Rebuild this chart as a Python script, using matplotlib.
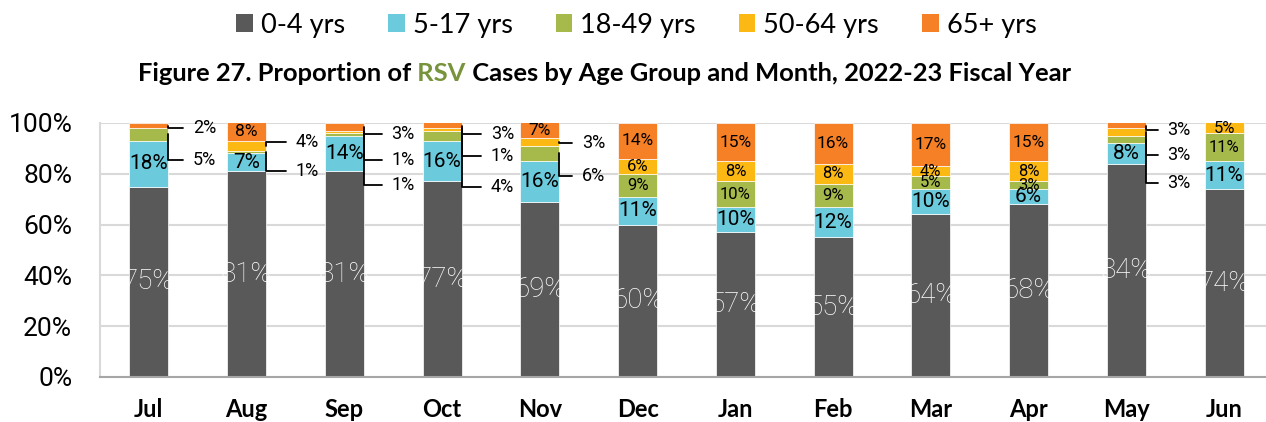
import numpy as np
import matplotlib.pyplot as plt
from matplotlib.patches import Patch

months = ["Jul", "Aug", "Sep", "Oct", "Nov", "Dec", "Jan", "Feb", "Mar", "Apr", "May", "Jun"]
groups = ["0-4 yrs", "5-17 yrs", "18-49 yrs", "50-64 yrs", "65+ yrs"]

age_0_4 = [75, 81, 81, 77, 69, 60, 57, 55, 64, 68, 84, 74]
age_5_17 = [18, 7, 14, 16, 16, 11, 10, 12, 10, 6, 8, 11]
age_18_49 = [5, 1, 1, 4, 6, 9, 10, 9, 5, 3, 3, 11]
age_50_64 = [0, 4, 1, 1, 3, 6, 8, 8, 4, 8, 3, 5]
age_65_plus = [2, 8, 3, 3, 7, 14, 15, 16, 17, 15, 3, 0]

colors = ["#595959", "#6BCBDC", "#A6B94B", "#FDB913", "#F58025"]
label_colors = ["white", "black", "black", "black", "black"]
label_sizes = [20, 15, 12, 12, 12.5]

# small segments labelled outside the bar: (month, group) -> (label y, x offset)
callouts = {
    (0, 4): (98, 0.45), (0, 2): (85.5, 0.45),
    (1, 3): (92.5, 0.5), (1, 2): (81, 0.5),
    (2, 4): (95.5, 0.48), (2, 3): (85.5, 0.48), (2, 2): (75.5, 0.48),
    (3, 4): (95.5, 0.5), (3, 3): (87, 0.5), (3, 2): (75, 0.5),
    (4, 3): (92, 0.43), (4, 2): (79, 0.43),
    (10, 4): (97.2, 0.42), (10, 3): (87.5, 0.42), (10, 2): (76.5, 0.42),
}

series = [age_0_4, age_5_17, age_18_49, age_50_64, age_65_plus]

W, H = 1266, 422
fig = plt.figure(figsize=(W / 100, H / 100), dpi=100)
ax = fig.add_axes([100 / W, 45 / H, 1173 / W, 254 / H])

x = np.arange(len(months))
bw = 0.4
bottom = np.zeros(len(months))
for k, vals in enumerate(series):
    vals = np.array(vals, dtype=float)
    ax.bar(x, vals, bw, bottom=bottom, color=colors[k], edgecolor="white", linewidth=0.5, zorder=2)
    for i, v in enumerate(vals):
        if v <= 0:
            continue
        lo = bottom[i]
        hi = min(lo + v, 100)
        if (i, k) in callouts:
            ly, dx = callouts[(i, k)]
            ax.annotate(f"{int(v)}%", xy=(i + bw / 2, (lo + hi) / 2), xytext=(i + dx, ly),
                        ha="left", va="center", fontsize=13, family="Roboto", color="black",
                        arrowprops=dict(arrowstyle="-", color="black", lw=1.3,
                                        connectionstyle="angle,angleA=0,angleB=90,rad=0",
                                        relpos=(0, 0.5), shrinkA=5, shrinkB=0),
                        annotation_clip=False, zorder=4)
        else:
            ax.text(i, (lo + hi) / 2, f"{int(v)}%", ha="center", va="center",
                    fontsize=label_sizes[k], family="Roboto",
                    fontweight="light" if k == 0 else "normal",
                    color=label_colors[k], zorder=3)
    bottom += vals

ax.set_xlim(-0.5, len(months) - 0.5)
ax.set_ylim(0, 100)
ax.set_yticks(np.arange(0, 101, 20))
ax.set_yticklabels([f"{t}%" for t in range(0, 101, 20)], family="Roboto", fontsize=19)
ax.set_xticks(x)
ax.set_xticklabels(months, family="Lato", fontweight="bold", fontsize=17)
ax.tick_params(axis="y", length=0, pad=20)
ax.tick_params(axis="x", length=0, pad=15)
ax.grid(axis="y", color="#D9D9D9", linewidth=1.5, zorder=0)
ax.set_axisbelow(True)
for s in ["top", "right"]:
    ax.spines[s].set_visible(False)
ax.spines["left"].set_color("#D9D9D9")
ax.spines["left"].set_linewidth(1.5)
ax.spines["bottom"].set_color("#A6A6A6")
ax.spines["bottom"].set_linewidth(1.5)

handles = [Patch(facecolor=c, label=g) for c, g in zip(colors, groups)]
fig.legend(handles=handles, loc="center", bbox_to_anchor=(636.5 / W, 1 - 25 / H), ncol=5,
           frameon=False, prop={"family": "Lato", "size": 19.5}, handlelength=0.6, handleheight=0.6,
           handletextpad=0.3, columnspacing=1.6)

# title with coloured "RSV", sized to span the same width as the original
ty = 1 - 81 / H
parts = [("Figure 27. Proportion of", "black"), (" RSV", "#77933C"),
         (" Cases by Age Group and Month, 2022-23 Fiscal Year", "black")]
fig.canvas.draw()
r = fig.canvas.get_renderer()
size = 18
probe = fig.text(0, 0, "".join(p for p, _ in parts), family="Lato", fontweight="bold", fontsize=size)
size *= 934 / probe.get_window_extent(r).width
probe.remove()
xpos = 138 / W
for txt, col in parts:
    t = fig.text(xpos, ty, txt, color=col, family="Lato", fontweight="bold",
                 fontsize=size, ha="left", va="baseline")
    xpos = t.get_window_extent(r).x1 / W

fig.savefig("out.png", dpi=100)
